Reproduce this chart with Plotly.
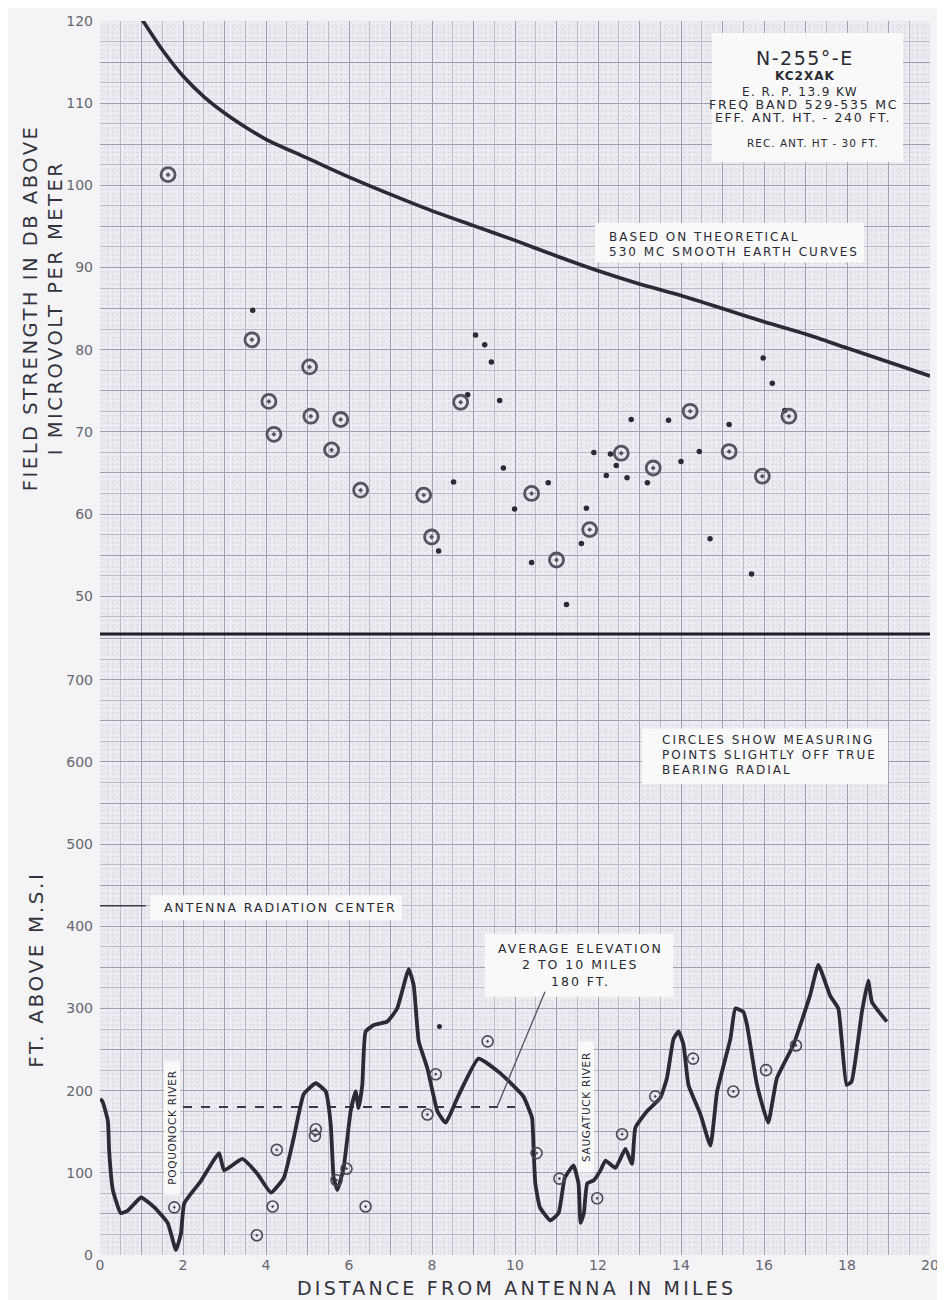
import numpy as np
import plotly.graph_objects as go

# ---------------- data ----------------
THEORY_MI = [1.0, 1.5, 2.0, 2.5, 3.0, 3.5, 4.0, 5.0, 6.0, 7.0, 8.0, 9.0, 10.0, 11.0, 12.0,
             13.0, 14.0, 15.0, 16.0, 17.0, 18.0, 19.0, 20.0]
THEORY_DB = [120.3, 116.5, 113.3, 110.8, 108.8, 107.1, 105.6, 103.3, 101.0, 98.9, 96.9, 95.1,
             93.3, 91.4, 89.6, 88.0, 86.6, 85.0, 83.4, 81.9, 80.2, 78.5, 76.8]

TOP_CIRCLE_MI = [1.64, 3.66, 4.07, 4.19, 5.05, 5.08, 5.80, 5.58, 6.28, 7.80, 7.99, 8.69,
                 10.40, 11.00, 11.80, 12.56, 13.33, 14.22, 15.16, 15.96, 16.60]
TOP_CIRCLE_DB = [101.3, 81.2, 73.7, 69.7, 77.9, 71.9, 71.5, 67.8, 62.9, 62.3, 57.2, 73.6,
                 62.5, 54.4, 58.1, 67.4, 65.6, 72.5, 67.6, 64.6, 71.9]

TOP_DOT_MI = [3.68, 9.05, 9.27, 9.43, 8.86, 9.63, 9.72, 8.52, 8.16, 10.80, 9.99, 11.72, 11.60,
              10.40, 11.24, 12.80, 13.70, 11.90, 12.30, 12.44, 12.20, 12.70, 13.19, 14.00,
              14.44, 15.16, 14.70, 15.70, 15.98, 16.20, 16.50]
TOP_DOT_DB = [84.8, 81.8, 80.6, 78.5, 74.5, 73.8, 65.6, 63.9, 55.5, 63.8, 60.6, 60.7, 56.4,
              54.1, 49.0, 71.5, 71.4, 67.5, 67.3, 65.9, 64.7, 64.4, 63.8, 66.4,
              67.6, 70.9, 57.0, 52.7, 79.0, 75.9, 72.6]

TERRAIN_MI = [0.00, 0.06, 0.19, 0.22, 0.31, 0.50, 0.67, 0.99, 1.31, 1.63, 1.83, 1.95, 2.03,
              2.43, 2.87, 2.99, 3.43, 3.79, 4.12, 4.43, 4.67, 4.91, 5.20, 5.44, 5.56, 5.63,
              5.72, 5.87, 6.04, 6.16, 6.23, 6.32, 6.40, 6.60, 6.92, 7.16, 7.44, 7.56, 7.68,
              7.89, 8.13, 8.33, 8.61, 9.12, 9.65, 10.20, 10.41, 10.45, 10.49, 10.60, 10.85,
              11.05, 11.20, 11.41, 11.53, 11.58, 11.66, 11.74, 11.90, 12.06, 12.18, 12.42,
              12.66, 12.82, 12.90, 13.18, 13.50, 13.66, 13.82, 13.94, 14.06, 14.18, 14.47,
              14.71, 14.87, 15.19, 15.31, 15.50, 15.59, 15.83, 16.10, 16.31, 16.71, 17.11,
              17.31, 17.59, 17.79, 17.87, 17.99, 18.11, 18.36, 18.51, 18.60, 18.80, 18.96]
TERRAIN_FT = [190, 187, 163, 127, 79, 51, 54, 70, 58, 39, 6, 26, 63,
              90, 124, 103, 117, 99, 76, 94, 143, 196, 209, 199, 159, 94,
              79, 106, 175, 199, 179, 207, 272, 280, 284, 300, 348, 328, 260,
              227, 175, 161, 191, 239, 221, 193, 167, 127, 87, 58, 42,
              51, 94, 109, 87, 39, 51, 87, 91, 103, 115, 106,
              129, 111, 155, 175, 191, 215, 263, 272, 256, 207, 171,
              133, 199, 263, 300, 296, 280, 207, 161, 215, 256, 316,
              353, 316, 300, 263, 207, 211, 296, 334, 308, 294, 284]

BOT_CIRCLE_MI = [1.79, 3.78, 4.16, 4.26, 5.20, 5.18, 5.70, 5.94, 6.40, 7.89, 8.09, 9.34,
                 10.52, 11.07, 11.98, 12.58, 13.38, 14.29, 15.26, 16.05, 16.77]
BOT_CIRCLE_FT = [58, 24, 59, 128, 153, 145, 91, 105, 59, 171, 220, 260,
                 124, 93, 69, 147, 193, 239, 199, 225, 255]
BOT_DOT_MI = [8.18]
BOT_DOT_FT = [278]

AVG_ELEV_MI = [2.0, 10.0]
AVG_ELEV_FT = [180, 180]
ANT_CENTER_MI = [0.0, 1.1]
ANT_CENTER_FT = [425, 425]

X_TICK_LABELS = ["0", "2", "4", "6", "8", "10", "12", "14", "16", "18", "20"]
TOP_TICK_LABELS = ["50", "60", "70", "80", "90", "100", "110", "120"]
BOT_TICK_LABELS = ["0", "100", "200", "300", "400", "500", "600", "700"]

# ---------------- geometry ----------------
OFF = 8                      # page offset of the figure (body margin)
W, H = 937, 1292
ML, MR, MT, MB = 92, 15, 5, 45
PW, PH = W - ML - MR, H - MT - MB
SPLIT_PAGE = 630
SPLIT = (H - MB - (SPLIT_PAGE - OFF)) / PH
TOP_RANGE = [120 - (SPLIT_PAGE - OFF - MT) / 8.27, 120]
BOT_RANGE = [0, (H - MB - (SPLIT_PAGE - OFF)) / 0.827]


def px_x(px):
    return (px - OFF - ML) / PW


def px_y(py):
    return (H - MB - (py - OFF)) / PH


def mi(px):
    return (px - OFF - ML) / (PW / 20.0)


def db(py):
    return 120 - (py - OFF - MT) / 8.27


def ft(py):
    return (H - MB - (py - OFF)) / 0.827


INK = "#2b2b36"
FONT = "DejaVu Sans"
BG = "#ececf1"

fig = go.Figure()

fig.add_trace(go.Scatter(x=THEORY_MI, y=THEORY_DB, mode="lines", xaxis="x", yaxis="y",
                         line=dict(color=INK, width=3.6, shape="spline", smoothing=0.8),
                         showlegend=False, hoverinfo="skip"))
fig.add_trace(go.Scatter(x=TOP_DOT_MI, y=TOP_DOT_DB, mode="markers", xaxis="x", yaxis="y",
                         marker=dict(symbol="circle", size=5.5, color=INK),
                         showlegend=False))
fig.add_trace(go.Scatter(x=TOP_CIRCLE_MI, y=TOP_CIRCLE_DB, mode="markers", xaxis="x", yaxis="y",
                         marker=dict(symbol="circle-open-dot", size=14, color="#55555f",
                                     line=dict(width=2.8, color="#55555f")),
                         showlegend=False))

fig.add_trace(go.Scatter(x=AVG_ELEV_MI, y=AVG_ELEV_FT, mode="lines", xaxis="x2", yaxis="y2",
                         line=dict(color="#3a3a44", width=2, dash="dash"),
                         showlegend=False, hoverinfo="skip"))
fig.add_trace(go.Scatter(x=ANT_CENTER_MI, y=ANT_CENTER_FT, mode="lines", xaxis="x2", yaxis="y2",
                         line=dict(color="#3a3a44", width=1.5),
                         showlegend=False, hoverinfo="skip"))
fig.add_trace(go.Scatter(x=TERRAIN_MI, y=TERRAIN_FT, mode="lines", xaxis="x2", yaxis="y2",
                         line=dict(color=INK, width=3.8, shape="spline", smoothing=0.4),
                         showlegend=False))
fig.add_trace(go.Scatter(x=BOT_CIRCLE_MI, y=BOT_CIRCLE_FT, mode="markers", xaxis="x2", yaxis="y2",
                         marker=dict(symbol="circle-open-dot", size=11, color="#4a4a55",
                                     line=dict(width=1.6, color="#4a4a55")),
                         showlegend=False))
fig.add_trace(go.Scatter(x=BOT_DOT_MI, y=BOT_DOT_FT, mode="markers", xaxis="x2", yaxis="y2",
                         marker=dict(symbol="circle", size=5, color=INK),
                         showlegend=False))

# ---------------- axes (graph paper) ----------------
x_vals = list(range(0, 21))
x_text = [X_TICK_LABELS[v // 2] if v % 2 == 0 else "" for v in x_vals]
top_vals = list(range(50, 121, 5))
top_text = [str(v) if str(v) in TOP_TICK_LABELS else "" for v in top_vals]
bot_vals = list(range(0, 751, 50))
bot_text = [str(v) if str(v) in BOT_TICK_LABELS else "" for v in bot_vals]

grid_bold = "#a0a0b2"
grid_mid = "#bdbdca"
grid_fine = "#d3d3dc"
tickfont = dict(family=FONT, size=14, color="#66666f")

common_x = dict(range=[0, 20], tickmode="array", tickvals=x_vals, showgrid=True,
                gridcolor=grid_bold, gridwidth=1.2, zeroline=False, showline=False,
                ticks="", tickfont=tickfont, ticklabeloverflow="allow",
                minor=dict(dtick=0.5, tick0=0, showgrid=True, gridcolor=grid_mid, gridwidth=0.8))

fig.update_layout(
    width=W, height=H,
    margin=dict(l=ML, r=MR, t=MT, b=MB),
    paper_bgcolor="#f4f4f6",
    plot_bgcolor=BG,
    xaxis=dict(anchor="y", domain=[0, 1], showticklabels=False, ticktext=[""] * len(x_vals),
               **common_x),
    xaxis2=dict(anchor="y2", domain=[0, 1], matches="x", ticktext=x_text, showticklabels=True,
                ticklabelstandoff=0, **common_x),
    yaxis=dict(anchor="x", domain=[SPLIT, 1], range=TOP_RANGE, tickmode="array",
               tickvals=top_vals, ticktext=top_text, showgrid=True, gridcolor=grid_bold,
               gridwidth=1.2, zeroline=False, ticks="", ticklabelstandoff=6,
               ticklabeloverflow="allow",
               minor=dict(dtick=2.5, tick0=0, showgrid=True, gridcolor=grid_mid, gridwidth=0.8),
               tickfont=tickfont),
    yaxis2=dict(anchor="x2", domain=[0, SPLIT], range=BOT_RANGE, tickmode="array",
                tickvals=bot_vals, ticktext=bot_text, showgrid=True, gridcolor=grid_bold,
                gridwidth=1.2, zeroline=False, ticks="", ticklabelstandoff=6,
                ticklabeloverflow="allow",
                minor=dict(dtick=25, tick0=0, showgrid=True, gridcolor=grid_mid, gridwidth=0.8),
                tickfont=tickfont),
    showlegend=False,
)

shapes = []
fine = dict(color=grid_fine, width=0.7, dash="dot")
# fine dotted rulings of the graph paper (below the grid)
for k in range(0, 201):
    if k % 5 == 0:
        continue
    v = k / 10.0
    shapes.append(dict(type="line", xref="x", yref="y", x0=v, x1=v, y0=TOP_RANGE[0], y1=TOP_RANGE[1],
                       line=fine, layer="below"))
    shapes.append(dict(type="line", xref="x2", yref="y2", x0=v, x1=v, y0=BOT_RANGE[0], y1=BOT_RANGE[1],
                       line=fine, layer="below"))
for k in range(int(np.ceil(TOP_RANGE[0] * 2)), 241):
    if k % 5 == 0:
        continue
    v = k / 2.0
    shapes.append(dict(type="line", xref="x", yref="y", x0=0, x1=20, y0=v, y1=v,
                       line=fine, layer="below"))
for k in range(0, int(BOT_RANGE[1] // 5) + 1):
    if k % 5 == 0:
        continue
    v = k * 5
    shapes.append(dict(type="line", xref="x2", yref="y2", x0=0, x1=20, y0=v, y1=v,
                       line=fine, layer="below"))

BOX = "#f9f9fa"


def top_box(x0, x1, y0, y1):
    shapes.append(dict(type="rect", xref="x", yref="y", x0=mi(x0), x1=mi(x1), y0=db(y1), y1=db(y0),
                       fillcolor=BOX, line=dict(width=0), layer="above"))


def bot_box(x0, x1, y0, y1):
    shapes.append(dict(type="rect", xref="x2", yref="y2", x0=mi(x0), x1=mi(x1), y0=ft(y1), y1=ft(y0),
                       fillcolor=BOX, line=dict(width=0), layer="above"))


top_box(712, 903, 25, 155)
top_box(595, 864, 216, 256)
bot_box(642, 888, 725, 781)
bot_box(150, 402, 893, 918)
bot_box(485, 673, 932, 995)
bot_box(164, 180, 1060, 1194)
bot_box(578, 594, 1040, 1172)

# separator between the two panels
shapes.append(dict(type="line", xref="paper", yref="paper", x0=0, x1=1, y0=SPLIT, y1=SPLIT,
                   line=dict(color="#1e1e26", width=3), layer="above"))
# pointer from the average elevation label
shapes.append(dict(type="line", xref="x2", yref="y2", x0=mi(545), y0=ft(990), x1=mi(497), y1=ft(1106),
                   line=dict(color="#55555f", width=1.3), layer="above"))

fig.update_layout(shapes=shapes)

ann = []


def text(px, py, s, size=12, anchor="center", color="#2a2a33", angle=0, ls=1.0):
    ann.append(dict(x=px_x(px), y=px_y(py), xref="paper", yref="paper", showarrow=False,
                    text=f'<span style="letter-spacing:{ls}px">{s}</span>',
                    xanchor=anchor, yanchor="middle", textangle=angle,
                    font=dict(family=FONT, size=size, color=color)))


text(805, 50, "N-255°-E", 19, ls=1.5)
text(805, 68, "<b>KC2XAK</b>", 12, ls=1)
text(800, 84, "E. R. P. 13.9 KW", 12, ls=1.4)
text(803, 97, "FREQ BAND 529-535 MC", 12.5, ls=1.8)
text(803, 110, "EFF. ANT. HT. - 240 FT.", 12.5, ls=1.7)
text(813, 136, "REC. ANT. HT - 30 FT.", 10.5, ls=1)

text(607, 230, "BASED ON THEORETICAL", 12, anchor="left", ls=2)
text(607, 245, "530 MC SMOOTH EARTH CURVES", 12, anchor="left", ls=2)

text(660, 737, "CIRCLES SHOW MEASURING", 12, anchor="left", ls=2)
text(660, 752, "POINTS SLIGHTLY OFF TRUE", 12, anchor="left", ls=2)
text(660, 767, "BEARING RADIAL", 12, anchor="left", ls=2)

text(162, 905, "ANTENNA RADIATION CENTER", 12.5, anchor="left", ls=1.9)

text(580, 947, "AVERAGE ELEVATION", 12.5, ls=2)
text(580, 963, "2 TO 10 MILES", 12.5, ls=2)
text(580, 980, "180 FT.", 12.5, ls=2)

text(172, 1127, "POQUONOCK RIVER", 10.5, angle=-90, ls=0.7)
text(586, 1106, "SAUGATUCK RIVER", 10.5, angle=-90, ls=0.7)

# axis titles
text(43, 302, "FIELD STRENGTH IN DB ABOVE<br>I MICROVOLT PER METER", 19.5, angle=-90,
     color="#33333c", ls=2.5)
text(36, 968, "FT. ABOVE M.S.I", 20, angle=-90, color="#33333c", ls=2.6)
text(516, 1288, "DISTANCE FROM ANTENNA IN MILES", 19, color="#33333c", ls=3.2)

fig.update_layout(annotations=ann)

fig.write_html("out.html")
